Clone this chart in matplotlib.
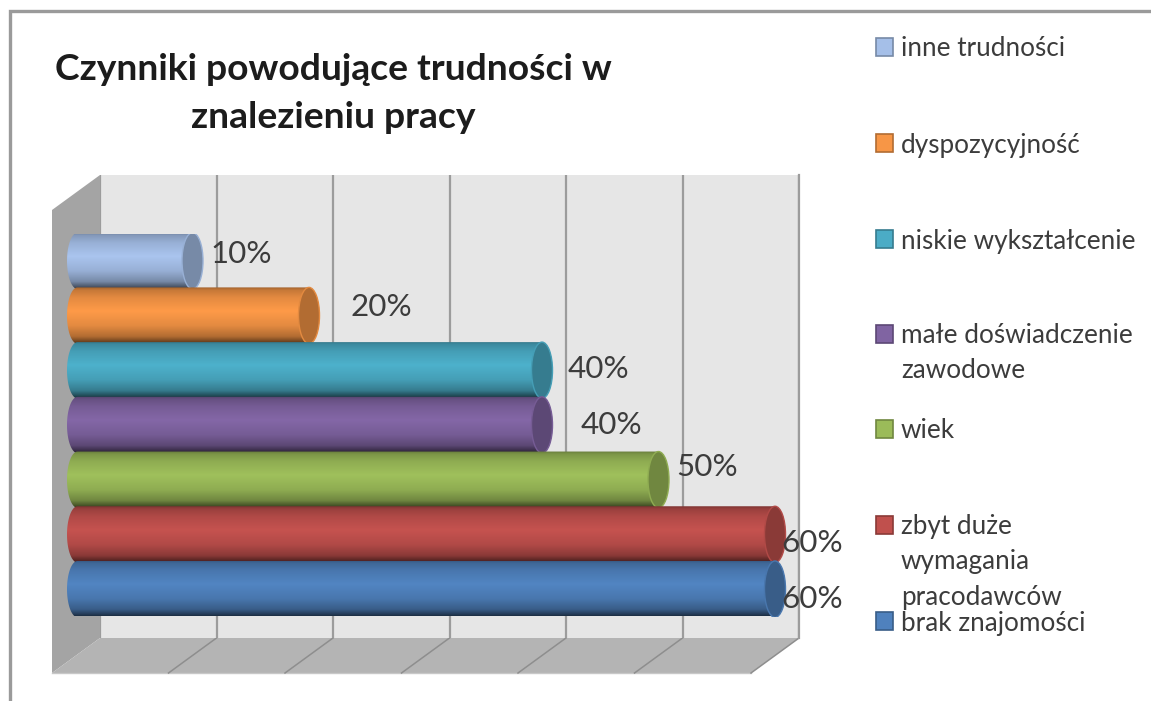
import numpy as np
import matplotlib
matplotlib.use("Agg")
import matplotlib.pyplot as plt
from matplotlib.patches import Ellipse, PathPatch, Polygon, Rectangle
from matplotlib.path import Path
from matplotlib.colors import to_rgb

# ---- data (bottom to top) ----
categories = ["brak znajomości", "zbyt duże\nwymagania\npracodawców", "wiek",
              "małe doświadczenie\nzawodowe", "niskie wykształcenie",
              "dyspozycyjność", "inne trudności"]
values = [60, 60, 50, 40, 40, 20, 10]
colors = ["#4f81bd", "#c0504d", "#9bbb59", "#8064a2", "#4bacc6", "#f79646", "#a5bfe8"]
title = "Czynniki powodujące trudności w\nznalezieniu pracy"
ticks = [0, 10, 20, 30, 40, 50, 60]

W, H = 1151, 701
TXT = "#3c3c3c"
plt.rcParams["font.family"] = ["Lato", "DejaVu Sans"]
fig = plt.figure(figsize=(W / 100, H / 100), dpi=100, facecolor="white")


def px_axes(x0, y0, x1, y1, **kw):
    return fig.add_axes([x0 / W, 1 - y1 / H, (x1 - x0) / W, (y1 - y0) / H], **kw)


# page layer in pixel coordinates: frame, side wall, floor, title, legend
page = px_axes(0, 0, W, H, zorder=0)
page.set_xlim(0, W)
page.set_ylim(H, 0)
page.axis("off")
page.plot([10, 10, W], [H, 11, 11], color="#9a9a9a", lw=2.4, solid_joinstyle="miter")
page.add_patch(Polygon([(52, 210), (100, 175), (100, 638), (52, 673)], fc="#a4a4a4", ec="none"))
page.add_patch(Polygon([(52, 673), (100, 638), (799, 638), (751, 673)], fc="#b4b4b4", ec="none"))
page.plot([52, 751], [673, 673], color="#c8c8c8", lw=1)
page.text(333, 93.5, title, ha="center", va="center", fontsize=26.8, fontweight="bold",
          color="#1c1c1c", linespacing=1.54)

# back wall: value axis with grid lines
wall = px_axes(100, 175, 799, 638, zorder=1)
wall.set_xlim(0, 60)
wall.set_ylim(0, 1)
wall.set_facecolor("#e6e6e6")
wall.set_xticks(ticks)
wall.set_yticks([])
wall.tick_params(length=0, labelbottom=False)
wall.grid(axis="x", color="#9c9c9c", lw=1.6)
for s in wall.spines.values():
    s.set_visible(False)
wall.set_axisbelow(True)
wall.axvline(60, color="#9c9c9c", lw=1.6, clip_on=False)
# floor lines: continue the grid towards the front edge
for t in ticks[1:]:
    xb = wall.transData.transform((t, 0))[0] * 100 / fig.dpi
    page.plot([xb, xb - 48], [638, 673], color="#8e8e8e", lw=1.1, zorder=3)

# bars: value axis on the front plane (zero at 76 px, 60 at 775 px), with margin for the bar ends
PX_PER = 699 / 60
ax_l, ax_r = 60, 800
ax = px_axes(ax_l, 233.5, ax_r, 616.5, zorder=2)
XLIM = ((ax_l - 76) / PX_PER, (ax_r - 76) / PX_PER)
ax.set_xlim(*XLIM)
ax.set_ylim(-0.5, 6.5)
ax.axis("off")
ax.patch.set_alpha(0)

RX = 10.5 / PX_PER
X0 = -9 / PX_PER
BAR_H = 1.03
stops = [0.0, 0.05, 0.18, 0.42, 0.68, 0.87, 0.96, 1.0]
gains = [0.66, 0.80, 0.92, 1.03, 0.92, 0.72, 0.45, 0.30]
t = np.linspace(0, 1, 128)
shade = np.interp(t, stops, gains)

for i, (v, c) in enumerate(zip(values, colors)):
    base = np.array(to_rgb(c))
    z = 10 + (6 - i) * 3
    rgb = np.clip(shade[:, None, None] * base[None, None, :], 0, 1)
    a = np.linspace(np.pi / 2, 3 * np.pi / 2, 40)
    xs = X0 + RX + RX * np.cos(a)
    ys = i + BAR_H / 2 * np.sin(a)
    verts = np.vstack([[v, i + BAR_H / 2], np.column_stack([xs, ys]), [v, i - BAR_H / 2], [v, i + BAR_H / 2]])
    clip = PathPatch(Path(verts), transform=ax.transData, fc="none", ec="none")
    ax.add_patch(clip)
    im = ax.imshow(rgb, extent=(X0, v, i - BAR_H / 2, i + BAR_H / 2), origin="upper",
                   aspect="auto", zorder=z, interpolation="bilinear")
    im.set_clip_path(clip)
    ax.add_patch(Ellipse((v, i), 2 * RX, BAR_H, fc=tuple(base * 0.72),
                         ec=tuple(np.clip(base * 0.92, 0, 1)), lw=1, zorder=z + 1))
ax.set_xlim(*XLIM)
ax.set_ylim(-0.5, 6.5)

# value labels (pixel offsets of the label centre from the bar end)
offsets = [(37, -10), (37, -9), (49, 13), (69, 0), (56, 1), (72, 9), (49, 7)]
for i, (v, off) in enumerate(zip(values, offsets)):
    ax.annotate(f"{v}%", (v, i), xytext=(off[0] * 0.72, off[1] * 0.72), textcoords="offset points",
                ha="center", va="center", fontsize=22.6, color=TXT, zorder=60, annotation_clip=False)

# legend
marker_y = [621, 525, 429, 334, 239, 143, 47]
for name, c, y in zip(categories, colors, marker_y):
    base = np.array(to_rgb(c))
    page.add_patch(Rectangle((876, y - 9), 17.5, 18, fc=c, ec=tuple(base * 0.72), lw=1.2))
    if "\n" in name:
        page.text(901, y - 11, name, ha="left", va="top", fontsize=18.8, color=TXT, linespacing=1.52)
    else:
        page.text(901, y + 2, name, ha="left", va="center", fontsize=18.8, color=TXT)

fig.savefig("out.png", dpi=100, facecolor="white")
